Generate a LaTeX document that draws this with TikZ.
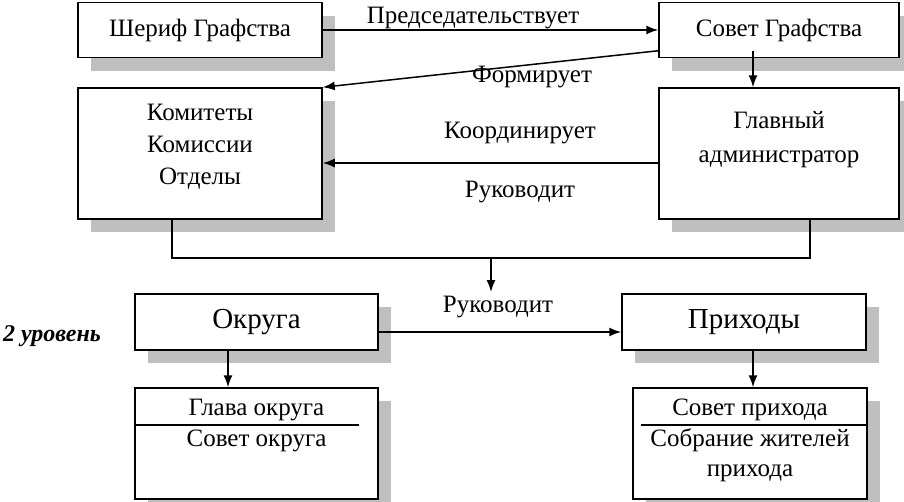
\documentclass[tikz,border=0pt]{standalone}
\usepackage{fontspec}
\setmainfont{Liberation Serif}
\usetikzlibrary{arrows.meta,shadows}

\begin{document}
\begin{tikzpicture}[x=1pt,y=-1pt,>={Latex[length=12pt,width=9pt]},
                font=\fontsize{25}{32}\selectfont,
                box/.style={draw,line width=1.5pt,fill=white,inner sep=0pt,
                    general shadow={fill=black!25,shadow xshift=13pt,shadow yshift=-13pt}},
                conn/.style={line width=1.5pt}]
                \useasboundingbox (0,0) rectangle (904,501);
                % county level
                \node[box,minimum width=244pt,minimum height=55pt] (sherif) at (200,30) {Шериф Графства};
                \node[box,minimum width=240pt,minimum height=55pt] (sovet) at (779,30) {Совет Графства};
                \node[box,minimum width=244pt,minimum height=131pt] (kom) at (200,153.5) {};
                \node[align=center] (komtxt) at (200,147) {Комитеты\\Комиссии\\Отделы};
                \node[box,minimum width=240pt,minimum height=131pt] (glav) at (779,153.5) {};
                \node[align=center,font=\fontsize{25}{34}\selectfont] (glavtxt) at (779,140) {Главный\\администратор};
                \node (lchair) at (473,18) {Председательствует};
                \node (lform) at (532,77) {Формирует};
                \node (lcoord) at (520,133) {Координирует};
                \node (lhead) at (520,192) {Руководит};
                \draw[conn,->] (sherif.east) -- (sovet.west);
                \draw[conn,->] ([yshift=7.5pt]sovet.south west) -- (kom.north east);
                \draw[conn,->] ([xshift=-26pt,yshift=7.5pt]sovet.south) -- ([xshift=-26pt]glav.north);
                \draw[conn,->] ([yshift=-9.5pt]glav.west) -- ([yshift=-9.5pt]kom.east);
                \draw[conn] ([xshift=-28pt]kom.south) -- ++(0,38) -| ([xshift=31pt]glav.south);
                \coordinate (split) at (491,257);
                \coordinate (lead) at (491,292);
                \draw[conn,->] (split) -- (lead);
                % 2nd level
                \node[font=\fontsize{24}{28}\selectfont\bfseries\itshape] (lvl) at (52,336) {2 уровень};
                \node[box,minimum width=243pt,minimum height=56pt,font=\fontsize{29}{34}\selectfont] (okr) at (256.5,322) {Округа};
                \node[box,minimum width=244pt,minimum height=56pt,font=\fontsize{29}{34}\selectfont] (prih) at (744,322) {Приходы};
                \node (lhead2) at (498,307) {Руководит};
                \draw[conn,->] ([yshift=-10pt]okr.east) -- ([yshift=-10pt]prih.west);
                \node[box,minimum width=243pt,minimum height=111pt] (glokr) at (256.5,443.5) {};
                \node (glokrtop) at (256.5,410) {Глава округа};
                \node (glokrbot) at (256.5,441) {Совет округа};
                \draw[conn] ([yshift=18.5pt]glokr.west) -- ++(225,0);
                \node[box,minimum width=234pt,minimum height=111pt] (sovpr) at (750,443.5) {};
                \node (sovprtop) at (750,410) {Совет прихода};
                \node[align=center,font=\fontsize{25}{30}\selectfont] (sovprbot) at (750,455.5) {Собрание жителей\\прихода};
                \draw[conn] ([yshift=18.5pt]sovpr.east) -- ++(-227,0);
                \draw[conn,->] ([xshift=-28.5pt]okr.south) -- ([xshift=-28.5pt]glokr.north);
                \draw[conn,->] ([xshift=9pt]prih.south) -- ([xshift=9pt]prih.south |- sovpr.north);
            \end{tikzpicture}
\end{document}
